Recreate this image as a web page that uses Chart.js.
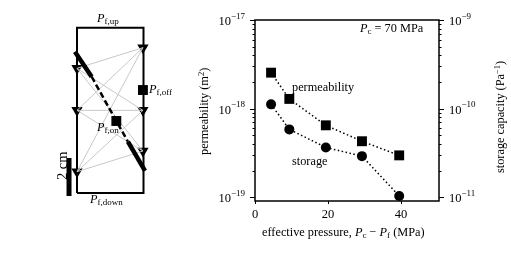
<!DOCTYPE html>
<html>
<head>
<meta charset="utf-8">
<script src="https://cdn.jsdelivr.net/npm/chart.js@4"></script>
<style>
    html, body { margin: 0; padding: 0; background: #fff; overflow: hidden; }
    body { width: 511px; height: 255px; position: relative; font-family: "Liberation Serif", serif; color: #000; }
    canvas { position: absolute; top: 0; }
    .lab { position: absolute; white-space: nowrap; font-size: 12.3px; line-height: 14px; }
    .lab sub { font-size: 9px; line-height: 0; vertical-align: -2px; }
    .lab sup { font-size: 8.5px; line-height: 0; vertical-align: 4px; }
    .up { transform-origin: 0 0; transform: rotate(-90deg); }
</style>
</head>
<body>
<canvas id="rig" width="190" height="255" style="left:0"></canvas>
<canvas id="chart" width="321" height="255" style="left:190px"></canvas>

<div class="lab" style="left:97px;top:11px"><i>P</i><sub>f,up</sub></div>
<div class="lab" style="left:149px;top:82px"><i>P</i><sub>f,off</sub></div>
<div class="lab" style="left:97px;top:120px"><i>P</i><sub>f,on</sub></div>
<div class="lab" style="left:90px;top:192px"><i>P</i><sub>f,down</sub></div>
<div class="lab up" style="left:55px;top:180px;font-size:14.5px">2 cm</div>

<div class="lab" style="left:360px;top:21px"><i>P</i><sub>c</sub> = 70 MPa</div>
<div class="lab" style="left:292px;top:80px">permeability</div>
<div class="lab" style="left:292px;top:154px">storage</div>
<div class="lab up" style="left:197px;top:155px">permeability (m<sup>2</sup>)</div>
<div class="lab up" style="left:493px;top:173px">storage capacity (Pa<sup>−1</sup>)</div>
<div class="lab" style="left:262px;top:225px">effective pressure, <i>P</i><sub>c</sub> − <i>P</i><sub>f</sub> (MPa)</div>

<script>
// right panel
const pressure = [4.4, 9.4, 19.4, 29.3, 39.5];
const permeability = [2.55e-18, 1.29e-18, 6.5e-19, 4.3e-19, 2.98e-19];
const storage = [1.12e-10, 5.85e-11, 3.66e-11, 2.92e-11, 1.04e-11];
const xTicks = [0, 20, 40];
const permeabilityExps = [-19, -18, -17];
const storageExps = [-11, -10, -9];

// left panel, sample sketch in cm (1 cm is 19 px)
const boxX = [0, 3.5, 3.5, 0, 0];
const boxY = [0, 0, 8.7, 8.7, 0];
const sensorLeftX = [0, 0, 0];
const sensorLeftY = [6.56, 4.35, 1.12];
const sensorRightX = [3.47, 3.47, 3.47];
const sensorRightY = [7.65, 4.35, 2.21];
const faultUpperX = [-0.11, 0.77];
const faultUpperY = [7.44, 6.12];
const faultMidX = [0.77, 2.68];
const faultMidY = [6.12, 2.7];
const faultLowerX = [2.68, 3.58];
const faultLowerY = [2.7, 1.17];
const portX = [2.07, 3.47];
const portY = [3.79, 5.42];
const barX = [-0.42, -0.42];
const barY = [1.84, -0.16];

function toPoints(xs, ys) {
    return xs.map((x, i) => ({ x: x, y: ys[i] }));
}

// every left sensor is linked to every right sensor, a null breaks the line
const links = [];
sensorLeftY.forEach((ly, i) => {
    sensorRightY.forEach((ry, j) => {
        links.push({ x: sensorLeftX[i], y: ly }, { x: sensorRightX[j], y: ry }, { x: null, y: null });
    });
});

function segment(xs, ys, width, dash) {
    return {
        data: toPoints(xs, ys), showLine: true, borderColor: '#000', borderWidth: width,
        borderDash: dash || [], pointRadius: 0, spanGaps: false
    };
}

function markers(xs, ys, style, radius, rotation) {
    return {
        data: toPoints(xs, ys), showLine: false, pointStyle: style, pointRadius: radius,
        pointRotation: rotation || 0, backgroundColor: '#000', borderColor: '#000', borderWidth: 0
    };
}

new Chart(document.getElementById('rig'), {
    type: 'scatter',
    data: {
        // Chart.js paints the first dataset last, so the top layer goes first
        datasets: [
            markers(portX, portY, 'rect', 7),
            segment(barX, barY, 5),
            segment(faultUpperX, faultUpperY, 4.5),
            segment(faultMidX, faultMidY, 2.5, [6, 3]),
            segment(faultLowerX, faultLowerY, 4.5),
            { data: links, showLine: true, borderColor: '#c8c8c8', borderWidth: 1, pointRadius: 0, spanGaps: false },
            markers(sensorLeftX, sensorLeftY, 'triangle', 6.5, 180),
            markers(sensorRightX, sensorRightY, 'triangle', 6.5, 180),
            segment(boxX, boxY, 2)
        ]
    },
    options: {
        responsive: false,
        animation: false,
        layout: { padding: 0, autoPadding: false },
        plugins: { legend: { display: false }, tooltip: { enabled: false } },
        scales: {
            // 0..190 px across and 0..255 px down at 19 px per cm, box corner at (77, 193)
            x: { display: false, min: -77 / 19, max: 113 / 19 },
            y: { display: false, min: -62 / 19, max: 193 / 19 }
        }
    }
});

// "10" with a raised exponent, at the place the scale gives for that decade
function drawDecade(ctx, scale, exp, x, alignRight) {
    const py = scale.getPixelForValue(Math.pow(10, exp));
    const power = '−' + Math.abs(exp);
    ctx.font = '9px "Liberation Serif", serif';
    const powerWidth = ctx.measureText(power).width;
    ctx.font = '12.5px "Liberation Serif", serif';
    const baseWidth = ctx.measureText('10').width;
    const left = alignRight ? x - powerWidth - baseWidth : x;
    ctx.fillText('10', left, py + 5);
    ctx.font = '9px "Liberation Serif", serif';
    ctx.fillText(power, left + baseWidth, py - 1.5);
}

// Chart.js has one tick length per axis, the log axes need long and short ones
const logAxes = {
    id: 'logAxes',
    afterDraw(chart) {
        const ctx = chart.ctx;
        const area = chart.chartArea;
        ctx.save();
        ctx.strokeStyle = '#000';
        ctx.fillStyle = '#000';
        ctx.lineWidth = 1.5;
        ctx.strokeRect(area.left, area.top, area.right - area.left, area.bottom - area.top);
        ctx.lineWidth = 1;
        [['y', area.left, -1, permeabilityExps], ['y2', area.right, 1, storageExps]].forEach(([id, edge, dir, exps]) => {
            const scale = chart.scales[id];
            exps.forEach((e, i) => {
                // the top decade only has its long tick
                const last = i === exps.length - 1 ? 1 : 9;
                for (let m = 1; m <= last; m++) {
                    const py = Math.round(scale.getPixelForValue(m * Math.pow(10, e))) + 0.5;
                    ctx.beginPath();
                    ctx.moveTo(edge, py);
                    ctx.lineTo(edge + dir * (m === 1 ? 5 : 2.5), py);
                    ctx.stroke();
                }
                drawDecade(ctx, scale, e, dir < 0 ? edge - 10 : edge + 10, dir < 0);
            });
        });
        ctx.restore();
    }
};

const tickFont = { family: '"Liberation Serif", serif', size: 12.5 };

new Chart(document.getElementById('chart'), {
    type: 'scatter',
    data: {
        datasets: [
            {
                data: toPoints(pressure, permeability), yAxisID: 'y', showLine: true,
                borderColor: '#000', borderWidth: 1.5, borderDash: [1.5, 2.5],
                pointStyle: 'rect', pointRadius: 7, pointBackgroundColor: '#000', pointBorderWidth: 0
            },
            {
                data: toPoints(pressure, storage), yAxisID: 'y2', showLine: true,
                borderColor: '#000', borderWidth: 1.5, borderDash: [1.5, 2.5],
                pointStyle: 'circle', pointRadius: 5, pointBackgroundColor: '#000', pointBorderWidth: 0
            }
        ]
    },
    options: {
        responsive: false,
        animation: false,
        layout: { padding: { top: 20 }, autoPadding: false },
        plugins: { legend: { display: false }, tooltip: { enabled: false } },
        scales: {
            x: {
                type: 'linear', min: 0, max: 50.4,
                afterBuildTicks(scale) { scale.ticks = xTicks.map(v => ({ value: v })); },
                afterFit(scale) { scale.height = 54; },
                grid: { drawOnChartArea: false, color: '#000', tickLength: 3 },
                border: { display: false },
                ticks: { color: '#000', font: tickFont, maxRotation: 0, padding: 3 }
            },
            y: {
                type: 'logarithmic', position: 'left', min: 9.12e-20, max: 1e-17,
                afterFit(scale) { scale.width = 65; },
                grid: { display: false },
                border: { display: false },
                ticks: { display: false }
            },
            y2: {
                type: 'logarithmic', position: 'right', min: 9.12e-12, max: 1e-9,
                afterFit(scale) { scale.width = 72; },
                grid: { display: false },
                border: { display: false },
                ticks: { display: false }
            }
        }
    },
    plugins: [logAxes]
});
</script>
</body>
</html>
